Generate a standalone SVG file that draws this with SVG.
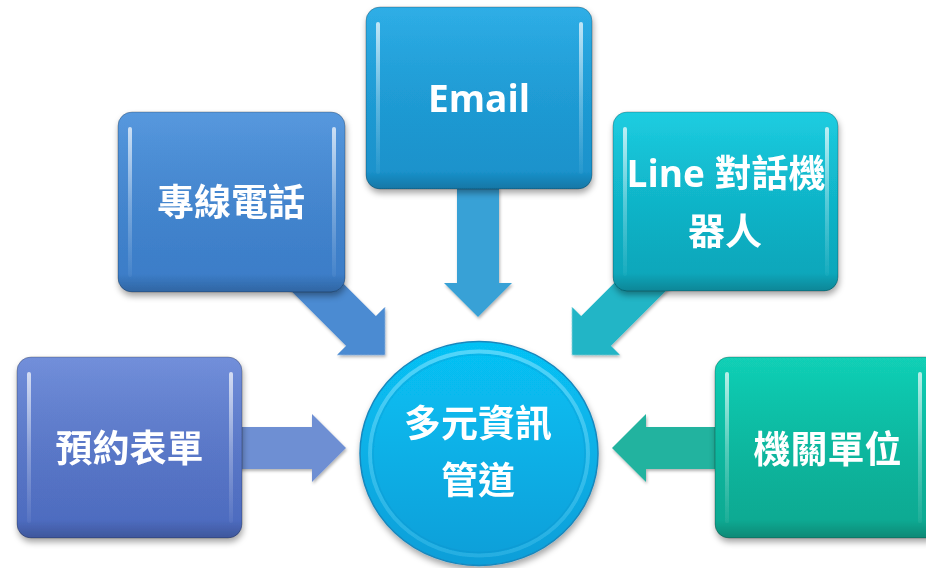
<svg xmlns="http://www.w3.org/2000/svg" width="926" height="568" viewBox="0 0 926 568">
<defs>
<filter id="sh" x="-20%" y="-20%" width="140%" height="150%">
<feDropShadow dx="1" dy="4" stdDeviation="3" flood-color="#000" flood-opacity="0.35"/>
</filter>
<filter id="ash" x="-20%" y="-20%" width="140%" height="140%">
<feDropShadow dx="1" dy="2" stdDeviation="1.5" flood-color="#000" flood-opacity="0.3"/>
</filter>
<linearGradient id="g1" x1="0" y1="0" x2="0" y2="1"><stop offset="0" stop-color="#6988d8"/><stop offset="1" stop-color="#4b69bd"/></linearGradient>
<linearGradient id="g2" x1="0" y1="0" x2="0" y2="1"><stop offset="0" stop-color="#4c92dc"/><stop offset="1" stop-color="#3a7bc6"/></linearGradient>
<linearGradient id="g3" x1="0" y1="0" x2="0" y2="1"><stop offset="0" stop-color="#22a9e5"/><stop offset="1" stop-color="#1990c9"/></linearGradient>
<linearGradient id="g4" x1="0" y1="0" x2="0" y2="1"><stop offset="0" stop-color="#10cadf"/><stop offset="1" stop-color="#0aa3b7"/></linearGradient>
<linearGradient id="g5" x1="0" y1="0" x2="0" y2="1"><stop offset="0" stop-color="#03cdb2"/><stop offset="1" stop-color="#12a68f"/></linearGradient>
<linearGradient id="hl" x1="0" y1="0" x2="0" y2="1"><stop offset="0" stop-color="#fff" stop-opacity="0.7"/><stop offset="0.5" stop-color="#fff" stop-opacity="0.3"/><stop offset="1" stop-color="#fff" stop-opacity="0.05"/></linearGradient>
<linearGradient id="bev" x1="0" y1="0" x2="0" y2="1"><stop offset="0" stop-color="#fff" stop-opacity="0.06"/><stop offset="0.9" stop-color="#000" stop-opacity="0"/><stop offset="1" stop-color="#000" stop-opacity="0.18"/></linearGradient>
<linearGradient id="cg" x1="0" y1="0" x2="0" y2="1"><stop offset="0" stop-color="#06c2f5"/><stop offset="1" stop-color="#0a9ed8"/></linearGradient>
<linearGradient id="cr" x1="0" y1="0" x2="0" y2="1"><stop offset="0" stop-color="#8fe6ff" stop-opacity="0.55"/><stop offset="1" stop-color="#4fc4ee" stop-opacity="0.4"/></linearGradient>
<path id="arr" d="M0,0 L-34,-34 L-34,-21 L-130,-21 L-130,21 L-34,21 L-34,34 Z"/>
</defs>
<style>
.box{stroke:#000;stroke-opacity:0.25;stroke-width:1}
.hl{fill:url(#hl)}
.bev{fill:url(#bev)}
.t{font-family:"Open Sans","Noto Sans CJK TC",sans-serif;font-weight:bold;font-size:37px;fill:#fff;text-anchor:middle}
</style>
<g id="connectors" filter="url(#ash)">
<use href="#arr" transform="translate(346,448)" fill="#6e8fd3"/>
<use href="#arr" transform="translate(385,355) rotate(45)" fill="#4c8bd2"/>
<use href="#arr" transform="translate(478,317) rotate(90)" fill="#37a1d6"/>
<use href="#arr" transform="translate(572,355) rotate(135)" fill="#23b5c6"/>
<use href="#arr" transform="translate(612,448) rotate(180)" fill="#20b39f"/>
</g>
<g id="node-form" filter="url(#sh)">
<rect class="box" x="17" y="357" width="225" height="181" rx="14" fill="url(#g1)"/>
<rect class="bev" x="17" y="357" width="225" height="181" rx="14"/>
<rect class="hl" x="27" y="372" width="4" height="151" rx="2"/>
<rect class="hl" x="229" y="372" width="4" height="151" rx="2"/>
<text class="t" x="129.5" y="462">預約表單</text>
</g>
<g id="node-phone" filter="url(#sh)">
<rect class="box" x="118" y="112" width="227" height="180" rx="14" fill="url(#g2)"/>
<rect class="bev" x="118" y="112" width="227" height="180" rx="14"/>
<rect class="hl" x="128" y="127" width="4" height="150" rx="2"/>
<rect class="hl" x="332" y="127" width="4" height="150" rx="2"/>
<text class="t" x="231" y="216">專線電話</text>
</g>
<g id="node-email" filter="url(#sh)">
<rect class="box" x="366" y="7" width="226" height="182" rx="14" fill="url(#g3)"/>
<rect class="bev" x="366" y="7" width="226" height="182" rx="14"/>
<rect class="hl" x="376" y="22" width="4" height="152" rx="2"/>
<rect class="hl" x="579" y="22" width="4" height="152" rx="2"/>
<text class="t" x="479" y="112">Email</text>
</g>
<g id="node-line" filter="url(#sh)">
<rect class="box" x="613" y="112" width="225" height="179" rx="14" fill="url(#g4)"/>
<rect class="bev" x="613" y="112" width="225" height="179" rx="14"/>
<rect class="hl" x="623" y="127" width="4" height="149" rx="2"/>
<rect class="hl" x="825" y="127" width="4" height="149" rx="2"/>
<text class="t" x="726" y="187">Line 對話機</text>
<text class="t" x="725" y="245">器人</text>
</g>
<g id="node-agency" filter="url(#sh)">
<rect class="box" x="715" y="357" width="225" height="181" rx="14" fill="url(#g5)"/>
<rect class="bev" x="715" y="357" width="225" height="181" rx="14"/>
<rect class="hl" x="725" y="372" width="4" height="151" rx="2"/>
<rect class="hl" x="918" y="372" width="4" height="151" rx="2"/>
<text class="t" x="827.5" y="463">機關單位</text>
</g>
<g id="node-center" filter="url(#sh)">
<ellipse cx="479" cy="453.5" rx="119" ry="112" fill="url(#cg)" stroke="#1887bd" stroke-width="1.5"/>
<ellipse cx="479" cy="453.5" rx="109" ry="102" fill="none" stroke="url(#cr)" stroke-width="4"/>
<ellipse cx="479" cy="453.5" rx="106" ry="99" fill="none" stroke="#0a8cc4" stroke-opacity="0.25" stroke-width="1.5"/>
<text class="t" x="478" y="437">多元資訊</text>
<text class="t" x="478" y="494">管道</text>
</g>
</svg>
